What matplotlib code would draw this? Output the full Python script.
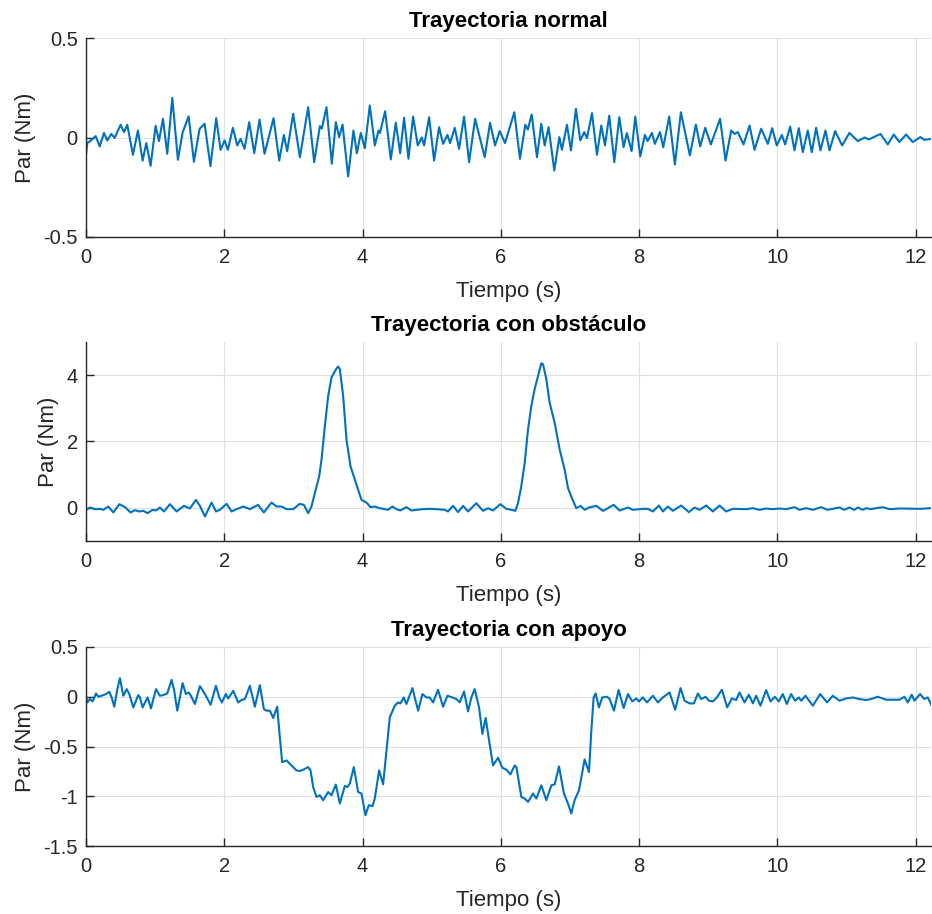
import matplotlib
matplotlib.use("Agg")
import matplotlib.pyplot as plt

# --- data (time in s, torque in Nm) ---
t_normal = [0.0, 0.02, 0.043, 0.14, 0.198, 0.26, 0.308, 0.366, 0.414, 0.50, 0.549, 0.597,
            0.679, 0.751, 0.819, 0.872, 0.934, 1.007, 1.055, 1.113, 1.175, 1.248, 1.329,
            1.397, 1.484, 1.561, 1.643, 1.715, 1.80, 1.883, 1.946, 2.004, 2.052, 2.124,
            2.187, 2.235, 2.293, 2.36, 2.433, 2.51, 2.582, 2.712, 2.794, 2.861, 2.909,
            2.996, 3.093, 3.213, 3.30, 3.382, 3.41, 3.478, 3.555, 3.613, 3.661, 3.71,
            3.791, 3.868, 3.917, 3.974, 4.032, 4.104, 4.177, 4.23, 4.25, 4.326, 4.408,
            4.48, 4.543, 4.60, 4.663, 4.73, 4.798, 4.856, 4.89, 4.962, 5.034, 5.106,
            5.164, 5.227, 5.265, 5.333, 5.395, 5.467, 5.54, 5.627, 5.766, 5.843, 5.916,
            5.983, 6.06, 6.194, 6.276, 6.353, 6.39, 6.445, 6.522, 6.584, 6.633, 6.69,
            6.772, 6.845, 6.883, 6.955, 7.013, 7.085, 7.148, 7.206, 7.245, 7.317, 7.389,
            7.452, 7.505, 7.567, 7.64, 7.712, 7.774, 7.822, 7.89, 7.943, 8.015, 8.083,
            8.121, 8.184, 8.227, 8.30, 8.348, 8.434, 8.516, 8.603, 8.733, 8.82, 8.882,
            8.955, 9.036, 9.17, 9.249, 9.33, 9.38, 9.427, 9.509, 9.596, 9.668, 9.764,
            9.86, 9.923, 9.99, 10.063, 10.111, 10.183, 10.246, 10.308, 10.366, 10.438,
            10.496, 10.559, 10.621, 10.694, 10.752, 10.833, 10.935, 11.04, 11.161,
            11.26, 11.32, 11.489, 11.595, 11.681, 11.763, 11.86, 11.956, 12.067,
            12.125, 12.225]
par_normal = [-0.085, -0.025, -0.023, 0.007, -0.045, 0.023, -0.015, 0.018, -0.002, 0.064,
              0.027, 0.064, -0.087, 0.035, -0.116, -0.028, -0.142, 0.059, -0.018, 0.094,
              -0.082, 0.199, -0.112, 0.025, 0.106, -0.122, 0.044, 0.069, -0.144, 0.097,
              -0.062, -0.015, -0.062, 0.049, -0.04, -0.007, -0.057, 0.077, -0.079, 0.09,
              -0.082, 0.097, -0.116, 0.013, -0.069, 0.119, -0.099, 0.152, -0.124, 0.057,
              0.045, 0.152, -0.132, 0.077, 0.002, 0.065, -0.196, 0.035, -0.079, 0.023,
              -0.054, 0.161, -0.04, 0.035, 0.022, 0.132, -0.11, 0.074, -0.079, 0.099,
              -0.107, 0.105, -0.04, 0.0, -0.04, 0.102, -0.116, 0.052, -0.032, 0.013,
              -0.028, 0.049, -0.057, 0.105, -0.124, 0.094, -0.099, 0.074, -0.04, 0.032,
              -0.028, 0.127, -0.107, 0.064, 0.04, 0.116, -0.099, 0.069, -0.04, 0.052,
              -0.166, 0.002, -0.062, 0.064, -0.065, 0.144, -0.015, 0.027, -0.003, 0.122,
              -0.087, 0.06, -0.04, 0.11, -0.124, 0.102, -0.049, 0.022, -0.069, 0.105,
              -0.095, 0.013, -0.018, 0.023, -0.032, 0.027, -0.049, 0.105, -0.136, 0.127,
              -0.09, 0.065, -0.045, 0.049, -0.035, 0.094, -0.116, 0.035, 0.018, 0.027,
              -0.035, 0.06, -0.062, 0.044, -0.032, 0.047, -0.04, 0.013, -0.035, 0.055,
              -0.065, 0.047, -0.074, 0.035, -0.074, 0.049, -0.065, 0.035, -0.065, 0.032,
              -0.04, 0.023, -0.018, 0.0, -0.01, 0.018, -0.035, 0.015, -0.023, 0.015,
              -0.023, 0.002, -0.012, -0.007]

t_obst = [0.0, 0.058, 0.13, 0.202, 0.25, 0.323, 0.395, 0.482, 0.564, 0.645, 0.708, 0.771,
          0.829, 0.891, 0.963, 1.012, 1.069, 1.127, 1.214, 1.31, 1.416, 1.503, 1.59, 1.647,
          1.72, 1.816, 1.879, 1.936, 2.033, 2.105, 2.177, 2.274, 2.37, 2.49, 2.572, 2.683,
          2.755, 2.828, 2.9, 2.996, 3.092, 3.15, 3.213, 3.261, 3.309, 3.372, 3.406, 3.454,
          3.502, 3.55, 3.622, 3.646, 3.671, 3.719, 3.767, 3.825, 3.887, 3.935, 3.984,
          4.032, 4.066, 4.114, 4.176, 4.239, 4.297, 4.369, 4.432, 4.489, 4.547, 4.634,
          4.706, 4.778, 4.875, 4.971, 5.067, 5.188, 5.236, 5.308, 5.38, 5.453, 5.525,
          5.645, 5.742, 5.814, 5.886, 5.992, 6.079, 6.151, 6.209, 6.247, 6.295, 6.344,
          6.392, 6.44, 6.488, 6.537, 6.585, 6.609, 6.657, 6.705, 6.777, 6.85, 6.922, 6.97,
          7.018, 7.09, 7.153, 7.211, 7.274, 7.38, 7.476, 7.548, 7.63, 7.717, 7.837, 7.909,
          8.054, 8.126, 8.198, 8.285, 8.343, 8.415, 8.487, 8.608, 8.719, 8.801, 8.873,
          8.969, 9.066, 9.162, 9.258, 9.355, 9.547, 9.644, 9.74, 9.836, 9.933, 10.029,
          10.125, 10.246, 10.318, 10.414, 10.511, 10.631, 10.723, 10.8, 10.896, 10.968,
          11.04, 11.113, 11.161, 11.233, 11.281, 11.354, 11.426, 11.522, 11.618, 11.763,
          12.052, 12.225]
par_obst = [-0.06, 0.01, -0.04, -0.03, -0.06, 0.04, -0.14, 0.11, 0.02, -0.14, -0.07, -0.11,
            -0.09, -0.16, -0.06, -0.08, 0.01, -0.11, 0.11, -0.11, 0.06, -0.02, 0.24, 0.06,
            -0.26, 0.16, -0.11, -0.06, 0.12, -0.11, -0.04, 0.04, -0.04, 0.09, -0.14, 0.16,
            0.04, 0.04, -0.04, -0.04, 0.12, 0.09, -0.16, 0.04, 0.44, 0.95, 1.45, 2.46,
            3.37, 3.93, 4.2, 4.26, 4.18, 3.37, 2.06, 1.25, 0.85, 0.55, 0.24, 0.19, 0.14,
            0.02, 0.04, -0.01, -0.03, -0.06, 0.04, -0.04, -0.08, 0.02, -0.08, -0.06, -0.04,
            -0.03, -0.04, -0.06, -0.11, 0.06, -0.13, 0.06, -0.11, 0.14, -0.09, -0.01, -0.08,
            0.11, -0.03, -0.06, -0.09, 0.14, 0.65, 1.35, 2.36, 3.07, 3.58, 3.98, 4.36, 4.33,
            3.88, 3.17, 2.57, 1.76, 1.15, 0.6, 0.34, -0.01, 0.06, -0.06, 0.01, 0.06, -0.09,
            -0.01, 0.09, -0.08, 0.01, -0.06, -0.03, -0.03, -0.11, 0.07, -0.11, 0.04, -0.09,
            0.07, -0.13, 0.01, -0.06, 0.07, -0.11, 0.07, -0.11, -0.03, -0.04, -0.01, -0.06,
            -0.02, -0.04, -0.02, -0.04, 0.02, -0.06, -0.01, -0.06, 0.02, -0.06, -0.03, 0.01,
            -0.06, 0.01, -0.06, 0.01, -0.06, -0.01, -0.04, -0.01, 0.02, -0.04, -0.02, -0.03,
            -0.01]

t_apoyo = [0.0, 0.019, 0.058, 0.096, 0.145, 0.178, 0.226, 0.289, 0.337, 0.371, 0.409, 0.453,
           0.491, 0.54, 0.588, 0.626, 0.684, 0.756, 0.78, 0.819, 0.891, 0.939, 1.012, 1.069,
           1.118, 1.175, 1.238, 1.276, 1.32, 1.358, 1.397, 1.445, 1.484, 1.517, 1.575,
           1.647, 1.72, 1.802, 1.879, 1.927, 1.965, 2.023, 2.057, 2.129, 2.201, 2.249,
           2.298, 2.37, 2.442, 2.514, 2.572, 2.611, 2.659, 2.707, 2.765, 2.803, 2.837, 2.9,
           2.972, 3.044, 3.092, 3.141, 3.213, 3.247, 3.285, 3.333, 3.382, 3.43, 3.502, 3.55,
           3.613, 3.671, 3.743, 3.781, 3.815, 3.873, 3.935, 3.984, 4.041, 4.09, 4.143,
           4.176, 4.239, 4.297, 4.345, 4.393, 4.465, 4.513, 4.547, 4.595, 4.634, 4.721,
           4.754, 4.803, 4.865, 4.923, 4.971, 5.019, 5.091, 5.164, 5.226, 5.299, 5.356,
           5.405, 5.467, 5.525, 5.573, 5.621, 5.684, 5.732, 5.78, 5.829, 5.886, 5.959,
           6.021, 6.079, 6.137, 6.2, 6.224, 6.296, 6.344, 6.393, 6.465, 6.513, 6.585, 6.657,
           6.73, 6.778, 6.84, 6.912, 6.97, 7.018, 7.066, 7.129, 7.211, 7.274, 7.308, 7.341,
           7.37, 7.418, 7.466, 7.534, 7.572, 7.635, 7.702, 7.775, 7.837, 7.9, 7.958, 7.996,
           8.054, 8.112, 8.198, 8.271, 8.343, 8.439, 8.521, 8.598, 8.656, 8.728, 8.791,
           8.849, 8.897, 8.96, 9.008, 9.066, 9.124, 9.196, 9.273, 9.34, 9.403, 9.451, 9.523,
           9.586, 9.644, 9.692, 9.754, 9.836, 9.899, 9.961, 10.019, 10.077, 10.135, 10.197,
           10.255, 10.308, 10.342, 10.405, 10.511, 10.617, 10.718, 10.8, 10.896, 10.992,
           11.089, 11.185, 11.281, 11.354, 11.45, 11.571, 11.763, 11.836, 11.884, 11.941,
           11.98, 12.062, 12.124, 12.172, 12.225]
par_apoyo = [0.01, -0.057, -0.023, -0.047, 0.033, 0.0, 0.01, 0.027, 0.05, -0.007, -0.1, 0.077,
             0.187, 0.01, 0.077, 0.027, -0.107, 0.017, -0.007, -0.107, -0.007, -0.117, 0.077,
             0.01, 0.017, 0.033, 0.17, 0.06, -0.14, -0.007, 0.137, 0.027, 0.043, 0.01,
             -0.073, 0.107, 0.027, -0.08, 0.11, -0.007, -0.057, 0.027, -0.017, 0.06, -0.057,
             -0.033, -0.023, 0.11, -0.1, 0.117, -0.123, -0.14, -0.14, -0.213, -0.1, -0.407,
             -0.657, -0.64, -0.69, -0.74, -0.747, -0.733, -0.707, -0.74, -0.907, -1.007,
             -0.99, -1.04, -0.957, -0.99, -0.883, -1.073, -0.897, -0.907, -0.873, -0.707,
             -0.957, -0.973, -1.19, -1.09, -1.1, -1.023, -0.74, -0.88, -0.54, -0.207, -0.09,
             -0.057, -0.067, -0.007, -0.073, 0.087, -0.007, -0.14, 0.027, -0.007, -0.007,
             -0.057, 0.07, -0.1, 0.01, -0.007, -0.023, -0.057, 0.053, -0.147, -0.007, 0.077,
             -0.107, -0.373, -0.213, -0.44, -0.69, -0.613, -0.713, -0.733, -0.78, -0.69,
             -0.707, -1.007, -1.023, -1.057, -0.973, -1.023, -0.89, -1.04, -0.89, -0.88,
             -0.7, -0.973, -1.073, -1.173, -1.04, -0.94, -0.63, -0.757, -0.34, -0.007, 0.033,
             -0.107, -0.007, 0.0, -0.023, -0.14, 0.067, -0.113, 0.027, -0.047, -0.017, -0.047,
             -0.007, -0.057, 0.01, -0.057, -0.007, 0.043, -0.13, 0.087, -0.04, -0.067, -0.067,
             0.033, -0.023, 0.0, -0.04, -0.047, -0.007, 0.07, -0.107, -0.017, -0.033, 0.043,
             -0.057, 0.02, -0.067, 0.01, -0.09, 0.067, -0.047, 0.0, -0.047, 0.027, -0.073,
             0.027, -0.04, -0.007, -0.04, 0.01, -0.09, 0.027, -0.057, 0.01, -0.04, -0.017,
             -0.007, -0.023, -0.033, -0.023, 0.0, -0.03, -0.03, 0.0, -0.057, 0.02, -0.04,
             0.027, -0.023, -0.007, -0.08]

titles = ["Trayectoria normal", "Trayectoria con obstáculo", "Trayectoria con apoyo"]
ylims = [(-0.5, 0.5), (-1, 5), (-1.5, 0.5)]
yticks = [[-0.5, 0, 0.5], [0, 2, 4], [-1.5, -1, -0.5, 0, 0.5]]
ytick_labels = [["-0.5", "0", "0.5"], ["0", "2", "4"], ["-1.5", "-1", "-0.5", "0", "0.5"]]
xticks = [0, 2, 4, 6, 8, 10, 12]
series = [(t_normal, par_normal), (t_obst, par_obst), (t_apoyo, par_apoyo)]

plt.rcParams['font.family'] = ['Liberation Sans', 'DejaVu Sans']
plt.rcParams['axes.unicode_minus'] = False

fig = plt.figure(figsize=(9.32, 9.14), dpi=100)
fig.patch.set_facecolor('white')

# axes boxes in pixels: left 86, right ~931; tops 38 / 342 / 647, height 199
W, H = 932.0, 914.0
tops = [38, 342, 647]
dark = '#262626'

for i, (ts, vals) in enumerate(series):
    ax = fig.add_axes([86 / W, 1 - (tops[i] + 199) / H, 845 / W, 199 / H])
    ax.plot(ts, vals, color='#0072BD', linewidth=1.5, solid_joinstyle='round')
    ax.set_xlim(0, 12.22)
    ax.set_ylim(*ylims[i])
    ax.set_xticks(xticks)
    ax.set_xticklabels([str(x) for x in xticks])
    ax.set_yticks(yticks[i])
    ax.set_yticklabels(ytick_labels[i])
    ax.grid(True, color='#e0e0e0', linewidth=0.8)
    ax.set_axisbelow(True)
    for side in ['top', 'right']:
        ax.spines[side].set_visible(False)
    for side in ['left', 'bottom']:
        ax.spines[side].set_color(dark)
        ax.spines[side].set_linewidth(1.0)
    ax.tick_params(direction='in', length=6, width=1.0, colors=dark,
                   labelsize=14.5, pad=6)
    ax.tick_params(axis='x', pad=8)
    ax.set_title(titles[i], fontsize=16, fontweight='bold', color='black', pad=8)
    ax.set_xlabel("Tiempo (s)", fontsize=16, color=dark, labelpad=10)
    ax.set_ylabel("Par (Nm)", fontsize=16, color=dark, labelpad=5)

fig.savefig("out.png", dpi=100, facecolor='white')
